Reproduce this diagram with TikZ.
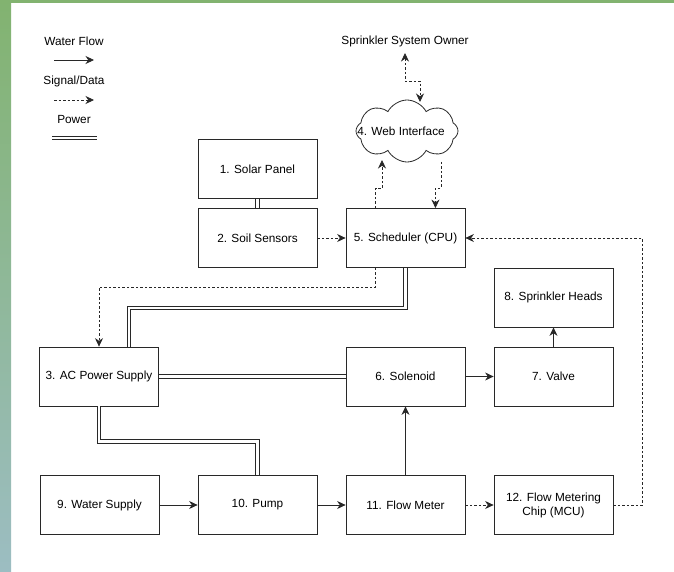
\documentclass[tikz,border=0pt]{standalone}
\usepackage{fontspec}
\setmainfont{Liberation Sans}
\usetikzlibrary{arrows.meta, positioning, shapes.symbols, calc}

\definecolor{framegreen}{RGB}{130,179,112}
\definecolor{frameteal}{RGB}{156,189,194}
\definecolor{linegray}{RGB}{40,40,40}

\begin{document}
\begin{tikzpicture}[x=1pt, y=-1pt,
    block/.style={draw=linegray, line width=0.8pt, fill=white, minimum width=119pt, minimum height=59pt, inner sep=0pt, align=center, font=\fontsize{11.8}{14}\selectfont},
    lbl/.style={font=\fontsize{11.8}{14}\selectfont},
    water/.style={draw=linegray, line width=0.8pt, -{Stealth[length=8.5pt, width=8pt]}},
    signal/.style={water, dash pattern=on 2.5pt off 2pt},
    power/.style={draw=white, line width=2.2pt, preaction={draw=linegray, line width=4.2pt}}
]

% Frame and page
\fill[white] (0,0) rectangle (674,572);
\shade[top color=framegreen, bottom color=frameteal] (0,0) rectangle (11,572);
\fill[framegreen] (0,0) rectangle (674,3);
\useasboundingbox (0,0) rectangle (674,572);

% Legend
\node[lbl] (lgwater) at (74,41) {Water Flow};
\node[lbl] (lgsignal) at (74,81) {Signal/Data};
\node[lbl] (lgpower) at (74,119) {Power};
\coordinate (lgw1) at (54,60); \coordinate (lgw2) at (94,60);
\coordinate (lgs1) at (54,100); \coordinate (lgs2) at (94,100);
\coordinate (lgp1) at (52,138); \coordinate (lgp2) at (97,138);
\draw[water] (lgw1) -- (lgw2);
\draw[signal] (lgs1) -- (lgs2);
\draw[power] (lgp1) -- (lgp2);

% Owner and web interface
\node[lbl] (owner) at (405,41) {Sprinkler System Owner};
\node[cloud, draw=linegray, line width=0.8pt, fill=white, cloud puffs=8, cloud puff arc=125, aspect=1.7, minimum width=102pt, minimum height=62pt, inner sep=0pt] (web) at (407,131) {};
\node[lbl] (webtxt) at (401,131) {4. Web Interface};
\coordinate (webtop) at (420,102);
\coordinate (webbl) at (382,160);
\coordinate (webbr) at (441,162);

% Boxes, top rows
\node[block] (solar) at (257.5,169) {1. Solar Panel};
\node[block] (soil) at (257.5,238) {2. Soil Sensors};
\node[block] (cpu) at (405.5,238) {5. Scheduler (CPU)};
\node[block] (heads) at (553.5,297.5) {8. Sprinkler Heads};

% Middle row
\node[block] (ac) at (99,376.5) {3. AC Power Supply};
\node[block] (solenoid) at (405.5,376.5) {6. Solenoid};
\node[block] (valve) at (553.5,376.5) {7. Valve};

% Bottom row
\foreach \name/\x/\txt in {supply/99.5/9. Water Supply, pump/257.5/10. Pump, meter/405.5/11. Flow Meter, mcu/553.5/{12. Flow Metering\\Chip (MCU)}} {
    \node[block] (\name) at (\x,505) {\txt};
}

% Signal / data
\draw[signal, {Stealth[length=8.5pt, width=8pt]}-{Stealth[length=8.5pt, width=8pt]}] ([yshift=-3pt]owner.south) -- ++(0,28) -| (webtop);
\draw[signal] ($(cpu.north west)!.25!(cpu.north east)$) -- ++(0,-20) -| (webbl);
\draw[signal] (webbr) -- ++(0,26) -| ($(cpu.north west)!.75!(cpu.north east)$);
\draw[signal] (soil) -- (cpu);
\draw[signal] ($(cpu.south west)!.25!(cpu.south east)$) -- ++(0,19) -| (ac.north);
\draw[signal] (meter) -- (mcu);
\draw[signal] (mcu.east) -- ++(29,0) |- (cpu.east);

% Power
\draw[power] (solar) -- (soil);
\draw[power] (cpu.south) -- ++(0,40) -| ($(ac.north west)!.75!(ac.north east)$);
\draw[power] (ac) -- (solenoid);
\draw[power] (ac.south) -- ++(0,35) -| (pump.north);

% Water flow
\draw[water] (supply) -- (pump);
\draw[water] (pump) -- (meter);
\draw[water] (meter) -- (solenoid);
\draw[water] (solenoid) -- (valve);
\draw[water] (valve) -- (heads);

\end{tikzpicture}
\end{document}
